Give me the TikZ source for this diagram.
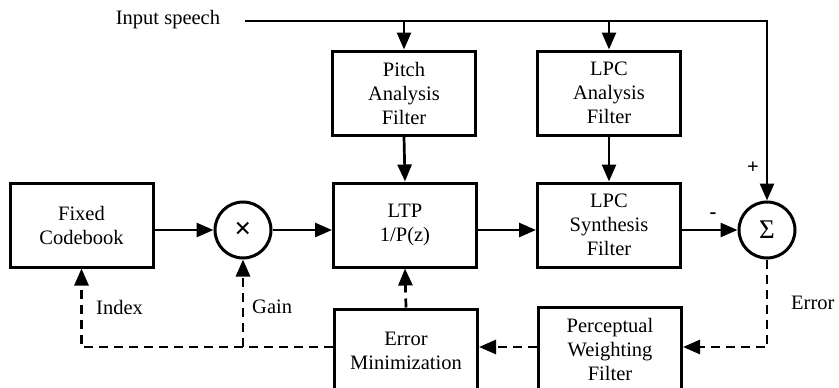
\documentclass[tikz,border=0pt]{standalone}
\usepackage{fontspec}
\setmainfont{Liberation Serif}
\usetikzlibrary{arrows.meta}
\begin{document}
\begin{tikzpicture}[x=1pt,y=-1pt,
  font=\fontsize{20.5}{24}\selectfont,
  block/.style={draw, line width=3pt, minimum width=143pt, minimum height=84pt,
    align=center, inner sep=0pt},
  junction/.style={draw, circle, line width=3pt, minimum size=56pt, inner sep=0pt},
  sig/.style={line width=2.7pt, -{Triangle[length=17pt,width=14pt]}},
  fb/.style={sig, dash pattern=on 9pt off 6pt},
  lbl/.style={inner sep=0pt}]
\useasboundingbox (0,0) rectangle (839,388);
\clip (0,0) rectangle (839,388);

% blocks
\node[block] (pitch) at (404,93) {Pitch\\Analysis\\Filter};
\node[block] (lpca) at (609,93) {LPC\\Analysis\\Filter};
\node[block] (cb) at (81.5,225) {Fixed\\Codebook};
\node[junction] (mul) at (243,230) {\fontsize{30}{30}\selectfont\textbf{×}};
\node[block] (ltp) at (405,225) {LTP\\1/P(z)};
\node[block] (lpcs) at (609,225) {LPC\\Synthesis\\Filter};
\node[junction] (sum) at (767,230) {\fontsize{27}{28}\selectfont Σ};
\node[block] (emin) at (406,351) {Error\\Minimization};
\node[block] (pw) at (610,349) {Perceptual\\Weighting\\Filter};

% labels
\node[lbl] (inp) at (168,20) {Input speech};
\node[lbl, anchor=west] (idx) at (96,307) {Index};
\node[lbl, anchor=west] (gain) at (252,307) {Gain};
\node[lbl, anchor=west] (err) at (791,303) {Error};
\node[lbl] (plus) at (753,168) {\textbf{+}};
\node[lbl] (minus) at (713,216) {\textbf{-}};

% input speech distribution
\coordinate (s0) at (245,21);
\coordinate (s1) at (767,21);
\draw[sig] (s0) -- (s1) -- (sum.north);
\draw[sig] (pitch.north |- s0) -- (pitch.north);
\draw[sig] (lpca.north |- s0) -- (lpca.north);

% forward signal path
\draw[sig] (pitch.south) -- (ltp.north);
\draw[sig] (lpca.south) -- (lpcs.north);
\draw[sig] (cb.east |- mul) -- (mul.west);
\draw[sig] (mul.east) -- (ltp.west |- mul);
\draw[sig] (ltp.east |- sum) -- (lpcs.west |- sum);
\draw[sig] (lpcs.east |- sum) -- (sum.west);

% error feedback (dashed)
\coordinate (ec) at (767,347);
\coordinate (ic) at (81.5,347);
\draw[fb] (sum.south) -- (ec) -- (pw.east |- ec);
\draw[fb] (pw.west |- ec) -- (emin.east |- ec);
\draw[fb] (emin.west |- ec) -- (ic) -- (cb.south);
\draw[fb] (mul.south |- ec) -- (mul.south);
\draw[fb] (emin.north) -- (ltp.south);
\end{tikzpicture}
\end{document}
